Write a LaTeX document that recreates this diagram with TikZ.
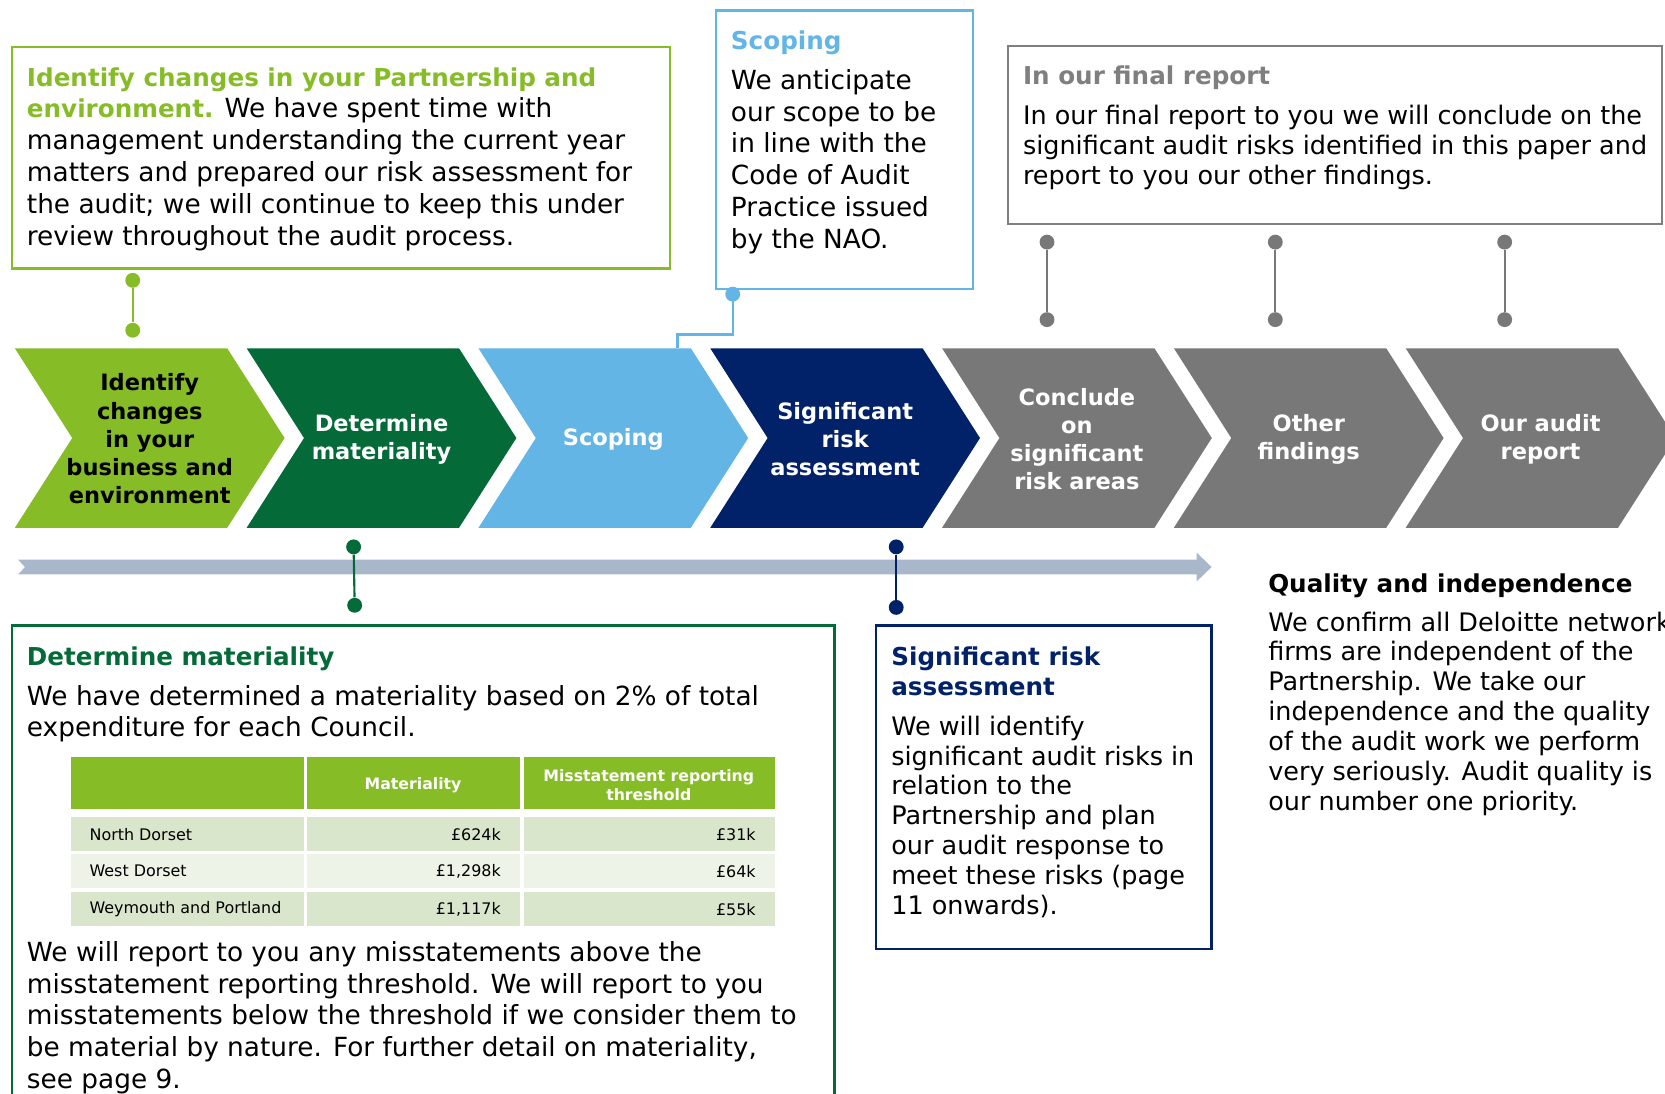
\documentclass[tikz,border=0pt]{standalone}
\usepackage{fontspec}
\setmainfont{DejaVu Sans}
\usetikzlibrary{fit}

\definecolor{dgreen}{HTML}{86BC25}
\definecolor{forest}{HTML}{046A38}
\definecolor{sky}{HTML}{62B5E5}
\definecolor{navy}{HTML}{012169}
\definecolor{slate}{HTML}{787878}
\definecolor{boxgray}{HTML}{7F7F7F}
\definecolor{rail}{HTML}{A9B7CB}
\definecolor{rowa}{HTML}{DAE6CB}
\definecolor{rowb}{HTML}{EDF3E6}

\newcommand\headtxt[1]{{\fontsize{11.6}{14.1}\selectfont\bfseries #1}}

\begin{document}
\begin{tikzpicture}[x=0.5pt, y=-0.5pt,
    frame/.style={draw=#1, line width=1.1pt, inner sep=0pt},
    dot/.style={circle, fill=#1, inner sep=0pt, minimum size=7pt},
    stem/.style={draw=#1, line width=1pt},
    body/.style={anchor=north west, inner sep=0pt, align=left, font=\fontsize{12.4}{15}\selectfont},
    tight/.style={anchor=north west, inner sep=0pt, align=left, font=\fontsize{12}{14.1}\selectfont},
    steptext/.style={align=center, inner sep=0pt, font=\fontsize{10.6}{13.3}\selectfont\bfseries},
    cell/.style={inner sep=0pt, font=\fontsize{7.5}{9}\selectfont}]
    \useasboundingbox (0,0) rectangle (1568,1030);

    % 顶部说明框
    \node[frame=dgreen, fit={(11,44) (631,253)}] (identbox) {};
    \node[body] (identtxt) at (25,63) {\textcolor{dgreen}{\headtxt{Identify changes in your Partnership and}}\\
        \textcolor{dgreen}{\headtxt{environment.}} We have spent time with\\
        management understanding the current year\\
        matters and prepared our risk assessment for\\
        the audit; we will continue to keep this under\\
        review throughout the audit process.};

    \node[frame=sky, fit={(674,10) (916,272)}] (scopebox) {};
    \node[body] (scopetxt) at (688,29) {\textcolor{sky}{\headtxt{Scoping}}\\[3.5pt]
        We anticipate\\ our scope to be\\ in line with the\\ Code of Audit\\ Practice issued\\ by the NAO.};

    \node[frame=boxgray, fit={(949,43) (1565,211)}] (finbox) {};
    \node[tight] (fintxt) at (963,62) {\textcolor{boxgray}{\headtxt{In our final report}}\\[4.4pt]
        In our final report to you we will conclude on the\\
        significant audit risks identified in this paper and\\
        report to you our other findings.};

    % 流程箭头
    \foreach \i/\fc/\tc/\lbl in {
        0/dgreen/black/{Identify\\changes\\in your\\business and\\environment},
        1/forest/white/{Determine\\materiality},
        2/sky/white/{Scoping},
        3/navy/white/{Significant\\risk\\assessment},
        4/slate/white/{Conclude\\on\\significant\\risk areas},
        5/slate/white/{Other\\findings},
        6/slate/white/{Our audit\\report}} {
        \pgfmathsetmacro{\xl}{14+218.3*\i}
        \fill[\fc] (\xl,328) -- ++(200,0) -- ++(54,84.5) -- ++(-54,84.5) -- ++(-200,0) -- ++(54,-84.5) -- cycle;
        \node[steptext, text=\tc] (step\i) at (\xl+127,413.5) {\lbl};
    }

    % 时间轴
    \fill[rail] (17,527) -- (1127,527) -- (1127,520.5) -- (1141,534) -- (1127,547.5)
        -- (1127,541) -- (17,541) -- (23.5,534) -- cycle;

    % 连接点
    \node[dot=dgreen] (ida) at (125,264) {};
    \node[dot=dgreen] (idb) at (125,311) {};
    \draw[stem=dgreen] (ida) -- (idb);

    \node[dot=sky] (scopedot) at (690,277) {};
    \coordinate (scopein) at (638,328);
    \draw[stem=sky] (scopedot.center) -- ++(0,38) -| (scopein);

    \foreach \x [count=\k] in {986,1201,1417} {
        \node[dot=slate] (fa\k) at (\x,228) {};
        \node[dot=slate] (fb\k) at (\x,301) {};
        \draw[stem=slate] (fa\k) -- (fb\k);
    }

    \node[dot=forest] (mata) at (333,515) {};
    \node[dot=forest] (matb) at (334,570) {};
    \draw[stem=forest] (mata) -- (matb);

    \node[dot=navy] (siga) at (844,515) {};
    \node[dot=navy] (sigb) at (844,572) {};
    \draw[stem=navy] (siga) -- (sigb);

    % 重要性水平
    \node[frame=forest, fit={(11,589) (786,1045)}] (matbox) {};
    \node[body] (mattxt) at (25,609) {\textcolor{forest}{\headtxt{Determine materiality}}\\[3.5pt]
        We have determined a materiality based on 2\% of total\\
        expenditure for each Council.};

    \fill[dgreen] (67,713) rectangle (286,762);
    \fill[dgreen] (289,713) rectangle (490,762);
    \fill[dgreen] (493,713) rectangle (730,762);
    \node[cell, text=white, font=\fontsize{7.4}{9}\selectfont\bfseries] (hmat) at (389,739) {Materiality};
    \node[cell, text=white, align=center, font=\fontsize{7.4}{9}\selectfont\bfseries] (hthr) at (611,739) {Misstatement reporting\\threshold};

    \foreach \nm/\va/\vb/\y/\c in {North Dorset/£624k/£31k/769/rowa,
        West Dorset/{£1,298k}/£64k/804/rowb,
        Weymouth and Portland/{£1,117k}/£55k/840/rowa} {
        \fill[\c] (67,\y) rectangle (286,\y+32.5);
        \fill[\c] (289,\y) rectangle (490,\y+32.5);
        \fill[\c] (493,\y) rectangle (730,\y+32.5);
        \node[cell, anchor=west] (nm\y) at (84,\y+16.5) {\nm};
        \node[cell, anchor=east] (va\y) at (472,\y+16.5) {\va};
        \node[cell, anchor=east] (vb\y) at (712,\y+16.5) {\vb};
    }

    \node[body] (mattxtb) at (25,886) {We will report to you any misstatements above the\\
        misstatement reporting threshold. We will report to you\\
        misstatements below the threshold if we consider them to\\
        be material by nature. For further detail on materiality,\\
        see page 9.};

    % 重大风险
    \node[frame=navy, fit={(825,589) (1141,894)}] (sigbox) {};
    \node[tight] (sigtxt) at (839,609) {\textcolor{navy}{\headtxt{Significant risk}}\\
        \textcolor{navy}{\headtxt{assessment}}\\[4.4pt]
        We will identify\\ significant audit risks in\\ relation to the\\ Partnership and plan\\
        our audit response to\\ meet these risks (page\\ 11 onwards).};

    % 质量与独立性
    \node[tight] (qualtxt) at (1194,540) {\headtxt{Quality and independence}\\[4pt]
        We confirm all Deloitte network\\ firms are independent of the\\ Partnership. We take our\\
        independence and the quality\\ of the audit work we perform\\ very seriously. Audit quality is\\
        our number one priority.};
\end{tikzpicture}
\end{document}
